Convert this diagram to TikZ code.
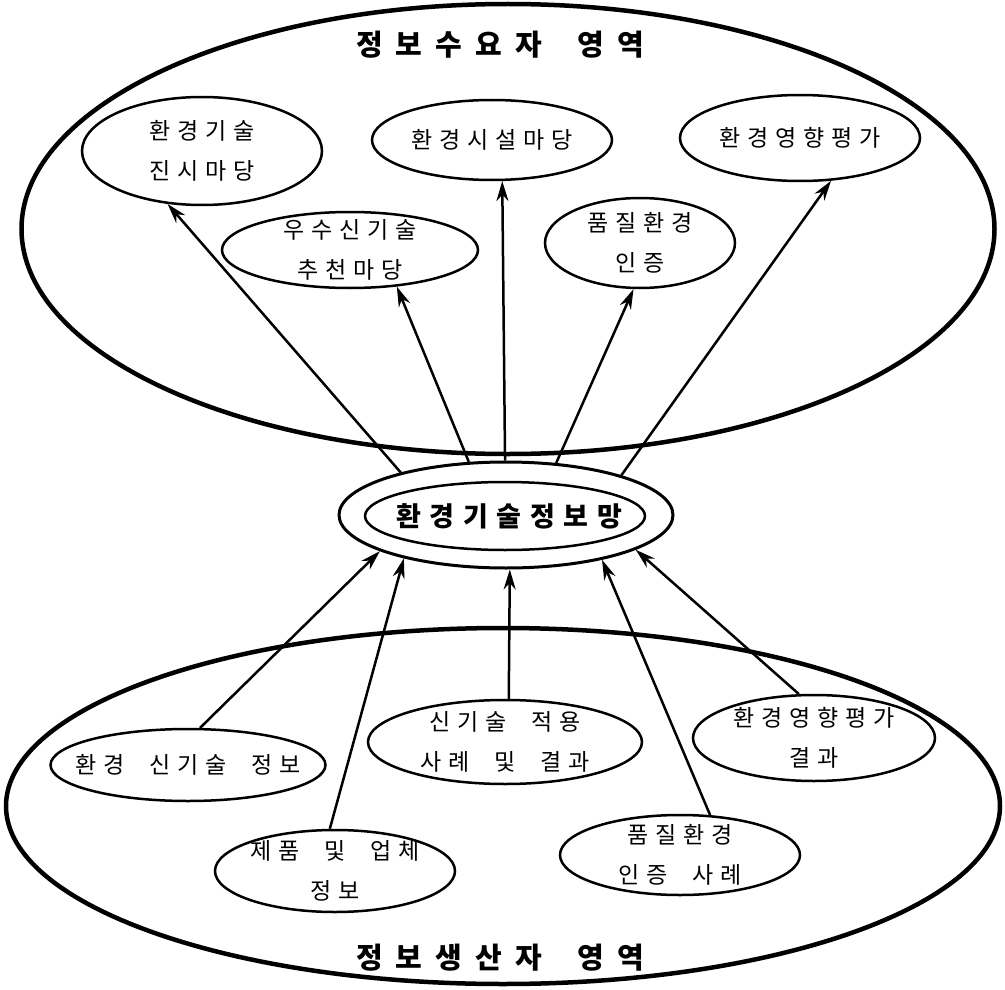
\documentclass[tikz,border=0pt]{standalone}
\usepackage{fontspec}
\newfontfamily\kr[LetterSpace=30]{Noto Sans CJK KR}
\newfontfamily\krt[LetterSpace=45]{Noto Sans CJK KR}
\newfontfamily\krc[LetterSpace=32]{Noto Sans CJK KR}
\newcommand\gp{\hspace{0.55em}}
\usetikzlibrary{shapes.geometric,arrows.meta}
\begin{document}
\begin{tikzpicture}[x=1pt,y=-1pt,
  bigell/.style={draw,ellipse,line width=4.5pt,inner sep=0pt},
  ell/.style={draw,ellipse,line width=2.5pt,inner sep=0pt},
  lbl/.style={inner sep=0pt,align=center,font=\kr\fontsize{23}{40}\selectfont},
  ttl/.style={inner sep=0pt,font=\krt\bfseries\fontsize{29}{32}\selectfont},
  arr/.style={line width=2.5pt,-{Stealth[length=20pt,width=12pt]}}]
\useasboundingbox (0,0) rectangle (1005,990);
% regions
\node[bigell,minimum width=973pt,minimum height=450pt] (top) at (508,229) {};
\node[ttl] (ttop) at (500,45) {정보수요자 \gp{}영역};
\node[bigell,minimum width=994pt,minimum height=356pt] (bot) at (503,806) {};
\node[ttl] (tbot) at (500,958) {정보생산자 \gp{}영역};
% centre
\node[ell,line width=3pt,minimum width=334pt,minimum height=106pt] (cen) at (506,515) {};
\node[ell,minimum width=280pt,minimum height=68pt] (cin) at (505,516) {};
\node[lbl,font=\krc\bfseries\fontsize{27}{32}\selectfont] (tcen) at ([xshift=4pt]cin.center) {환경기술정보망};
% top nodes
\node[ell,minimum width=240pt,minimum height=108pt] (e1) at (202,151) {};
\node[ell,minimum width=240pt,minimum height=80pt] (e2) at (492,140) {};
\node[ell,minimum width=240pt,minimum height=86pt] (e3) at (800,138) {};
\node[ell,minimum width=256pt,minimum height=76pt] (e4) at (350,250) {};
\node[ell,minimum width=190pt,minimum height=90pt] (e5) at (640,243) {};
\node[lbl] (t1) at (e1) {환경기술\\진시마당};
\node[lbl] (t2) at (e2) {환경시설마당};
\node[lbl] (t3) at (e3) {환경영향평가};
\node[lbl] (t4) at (e4) {우수신기술\\추천마당};
\node[lbl] (t5) at (e5) {품질환경\\인증};
% bottom nodes
\node[ell,minimum width=275pt,minimum height=72pt] (e6) at (188,765) {};
\node[ell,minimum width=274pt,minimum height=84pt] (e7) at (505,742) {};
\node[ell,minimum width=242pt,minimum height=86pt] (e8) at (814,738) {};
\node[ell,minimum width=240pt,minimum height=82pt] (e9) at (335,871) {};
\node[ell,minimum width=240pt,minimum height=80pt] (e10) at (680,855) {};
\node[lbl] (t6) at (e6) {환경 \gp{}신기술 \gp{}정보};
\node[lbl] (t7) at (e7) {신기술 \gp{}적용\\사례 \gp{}및 \gp{}결과};
\node[lbl] (t8) at (e8) {환경영향평가\\결과};
\node[lbl] (t9) at (e9) {제품 \gp{}및 \gp{}업체\\정보};
\node[lbl] (t10) at (e10) {품질환경\\인증 \gp{}사례};
% arrows up
\draw[arr] (cen.158) -- (e1.237);
\draw[arr] (cen.125) -- (e4.322);
\draw[arr] (cen.91) -- (e2.284);
\draw[arr] (cen.46) -- (e5.262);
\draw[arr] (cen.19) -- (e3.306);
% arrows in
\draw[arr] (e6.72) -- (cen.196);
\draw[arr] (e9.97) -- (cen.203);
\draw[arr] (e7.85) -- (cen.274);
\draw[arr] (e10.53) -- (cen.335);
\draw[arr] (e8.109) -- (cen.345);
\end{tikzpicture}
\end{document}
